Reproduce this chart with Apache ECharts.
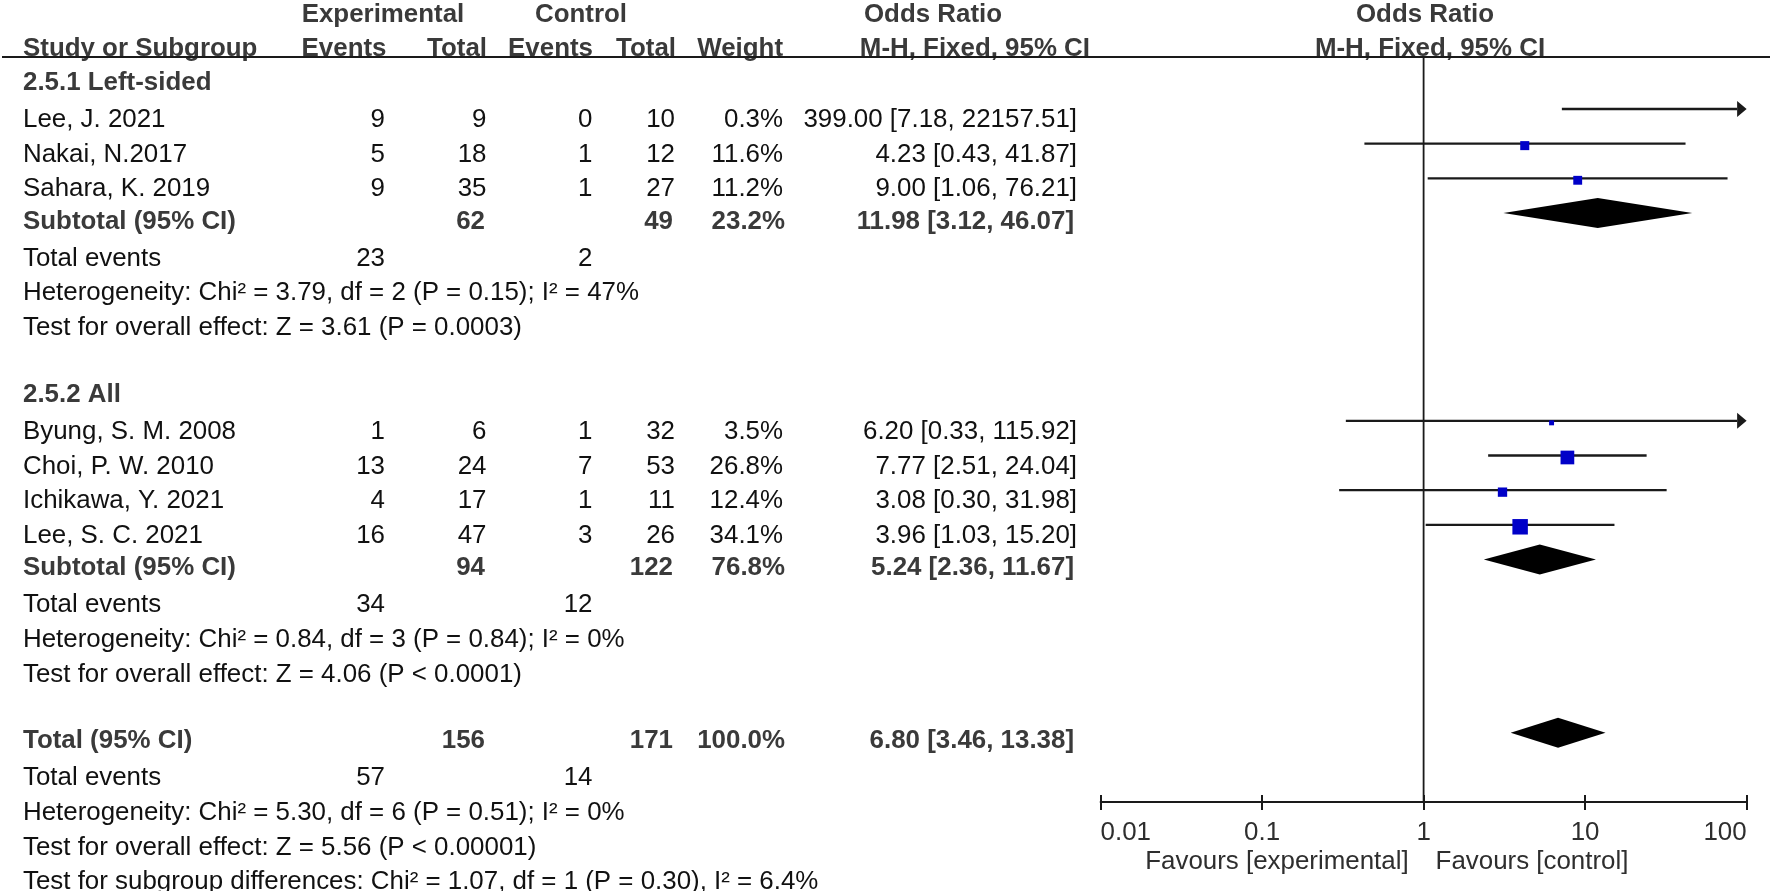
<!DOCTYPE html>
<html>
<head>
<meta charset="utf-8">
<script src="https://cdn.jsdelivr.net/npm/echarts@6/dist/echarts.min.js"></script>
<style>
html,body{margin:0;padding:0;background:#fff;}
#chart{width:1771px;height:891px;}
</style>
</head>
<body>
<div id="chart"></div>
<script>
// ---------------- DATA ----------------
const studies      = ['Lee, J. 2021', 'Nakai, N.2017', 'Sahara, K. 2019', 'Byung, S. M. 2008', 'Choi, P. W. 2010', 'Ichikawa, Y. 2021', 'Lee, S. C. 2021'];
const expEvents    = [9, 5, 9, 1, 13, 4, 16];
const expTotal     = [9, 18, 35, 6, 24, 17, 47];
const ctlEvents    = [0, 1, 1, 1, 7, 1, 3];
const ctlTotal     = [10, 12, 27, 32, 53, 11, 26];
const weights      = [0.3, 11.6, 11.2, 3.5, 26.8, 12.4, 34.1];
const oddsRatio    = [399.00, 4.23, 9.00, 6.20, 7.77, 3.08, 3.96];
const ciLow        = [7.18, 0.43, 1.06, 0.33, 2.51, 0.30, 1.03];
const ciHigh       = [22157.51, 41.87, 76.21, 115.92, 24.04, 31.98, 15.20];

const groupLabels  = ['2.5.1 Left-sided', '2.5.2 All'];
const pooledLabels = ['Subtotal (95% CI)', 'Subtotal (95% CI)', 'Total (95% CI)'];
const pooledExpTotal = [62, 94, 156];
const pooledCtlTotal = [49, 122, 171];
const pooledWeight   = [23.2, 76.8, 100.0];
const pooledOR       = [11.98, 5.24, 6.80];
const pooledLow      = [3.12, 2.36, 3.46];
const pooledHigh     = [46.07, 11.67, 13.38];
const totalEventsExp = [23, 34, 57];
const totalEventsCtl = [2, 12, 14];
const heterogeneityText = [
  'Heterogeneity: Chi² = 3.79, df = 2 (P = 0.15); I² = 47%',
  'Heterogeneity: Chi² = 0.84, df = 3 (P = 0.84); I² = 0%',
  'Heterogeneity: Chi² = 5.30, df = 6 (P = 0.51); I² = 0%'
];
const overallEffectText = [
  'Test for overall effect: Z = 3.61 (P = 0.0003)',
  'Test for overall effect: Z = 4.06 (P < 0.0001)',
  'Test for overall effect: Z = 5.56 (P < 0.00001)'
];
const subgroupDiffText = 'Test for subgroup differences: Chi² = 1.07, df = 1 (P = 0.30), I² = 6.4%';
const totalEventsLabel = 'Total events';

const headerTop    = ['Experimental', 'Control', 'Odds Ratio', 'Odds Ratio'];
const headerCols   = ['Study or Subgroup', 'Events', 'Total', 'Events', 'Total', 'Weight', 'M-H, Fixed, 95% CI', 'M-H, Fixed, 95% CI'];
const tickValues   = [0.01, 0.1, 1, 10, 100];
const tickLabels   = ['0.01', '0.1', '1', '10', '100'];
const favourLabels = ['Favours [experimental]', 'Favours [control]'];

// ---------------- LAYOUT (row slots) ----------------
const studyRow  = [3, 4, 5, 12, 13, 14, 15];
const groupRow  = [2, 11];
const pooledRow = [6, 16, 21];
const subgroupRow = 25;

const FONT = '"Liberation Sans", Arial, Helvetica, sans-serif';
const FS = 25.9;
const C_BOLD = '#3a3a3a';
const C_REG = '#111111';
const C_LINE = '#1a1a1a';

const COL = {
  name: 23, expEv: 385, expTot: 486.5, ctlEv: 592.5, ctlTot: 675, weight: 783, or: 1077,
  hExp: 383, hCtl: 581, hOR: 933, hORr: 1425, hMH: 1090, hMHr: 1430
};
const BOLD_SHIFT = { expTot: -1.5, ctlTot: -2, weight: 2, or: -3 };
const DY_BOLD = 8.5, DY_REG = 11, DY_HEAD = 9.5;

// ---------------- CHART ----------------
const chart = echarts.init(document.getElementById('chart'), null, { renderer: 'canvas' });

const forestItems = [];
studies.forEach((s, i) => {
  forestItems.push({ name: s, value: [oddsRatio[i], studyRow[i], ciLow[i], ciHigh[i], weights[i], 0] });
});
pooledLabels.forEach((s, i) => {
  forestItems.push({ name: s, value: [pooledOR[i], pooledRow[i], pooledLow[i], pooledHigh[i], pooledWeight[i], 1] });
});

function renderForest(params, api) {
  const or = api.value(0), k = api.value(1), lo = api.value(2), hi = api.value(3), w = api.value(4), pooled = api.value(5);
  const cs = params.coordSys;
  const xMin = cs.x, xMax = cs.x + cs.width;
  const pLo = api.coord([lo, k]), pHi = api.coord([hi, k]), pC = api.coord([or, k]);
  const y = pC[1];
  if (pooled) {
    const h = 15;
    return {
      type: 'polygon',
      shape: { points: [[pLo[0], y], [pC[0], y - h], [pHi[0], y], [pC[0], y + h]] },
      style: { fill: '#000' }
    };
  }
  const children = [];
  const x1 = Math.max(pLo[0], xMin);
  const clipR = pHi[0] > xMax;
  const aLen = 9.5, aH = 8;
  const x2 = clipR ? xMax - aLen : pHi[0];
  children.push({ type: 'line', shape: { x1: x1, y1: y, x2: x2, y2: y }, style: { stroke: C_LINE, lineWidth: 2.3 } });
  if (clipR) {
    children.push({ type: 'polygon', shape: { points: [[xMax, y], [xMax - aLen, y - aH], [xMax - aLen, y + aH]] }, style: { fill: C_LINE } });
  }
  if (pC[0] >= xMin && pC[0] <= xMax) {
    const s = 2.65 * Math.sqrt(w);
    children.push({ type: 'rect', shape: { x: pC[0] - s / 2, y: y + 2 - s / 2, width: s, height: s }, style: { fill: '#0000c8' } });
  }
  return { type: 'group', children: children };
}

function fmtTick(v) {
  for (let i = 0; i < tickValues.length; i++) {
    if (Math.abs(Math.log10(v) - Math.log10(tickValues[i])) < 1e-6) return tickLabels[i];
  }
  return '';
}

const option = {
  animation: false,
  backgroundColor: '#ffffff',
  grid: { left: 1100.6, right: 24.4, top: 57, bottom: 89, containLabel: false, outerBoundsMode: 'none' },
  xAxis: [
    {
      type: 'log', logBase: 10, min: 0.01, max: 100, position: 'bottom',
      splitLine: { show: false }, minorTick: { show: false },
      axisLine: { show: true, onZero: false, lineStyle: { color: C_LINE, width: 2 } },
      axisTick: { show: true, inside: false, length: 8, lineStyle: { color: C_LINE, width: 2 } },
      axisLabel: { show: true, margin: 18, fontSize: FS, fontFamily: FONT, color: '#2e2e2e', formatter: fmtTick, alignMinLabel: 'left', alignMaxLabel: 'right' }
    },
    {
      type: 'log', logBase: 10, min: 0.01, max: 100, position: 'bottom', gridIndex: 0,
      splitLine: { show: false },
      axisLine: { show: false, onZero: false },
      axisTick: { show: true, inside: true, length: 7, lineStyle: { color: C_LINE, width: 2 } },
      axisLabel: { show: false }
    }
  ],
  yAxis: { type: 'value', inverse: true, min: 1.5, max: 23, show: false },
  series: [
    {
      type: 'line', xAxisIndex: 0, yAxisIndex: 0, data: [[1, 1.5], [1, 23]], symbol: 'none', silent: true, z: 1,
      lineStyle: { color: C_LINE, width: 1.8 }
    },
    {
      type: 'custom', xAxisIndex: 0, yAxisIndex: 0, data: forestItems, renderItem: renderForest, clip: false, silent: true, z: 3
    }
  ]
};
chart.setOption(option);

// ---------------- TABLE TEXT ----------------
const py = k => chart.convertToPixel({ yAxisIndex: 0 }, k);
const px = v => chart.convertToPixel({ xAxisIndex: 0 }, v);
const els = [];
function addText(k, str, x, align, bold, dy, color) {
  const y = py(k) + (dy != null ? dy : (bold ? DY_BOLD : DY_REG));
  els.push({
    type: 'text', x: x, y: y, silent: true,
    style: {
      text: String(str), fill: color || (bold ? C_BOLD : C_REG),
      fontSize: FS, fontFamily: FONT, fontWeight: bold ? 'bold' : 'normal',
      align: align, textAlign: align, verticalAlign: 'middle', textVerticalAlign: 'middle'
    }
  });
}
const fmtOR = (o, l, h) => o.toFixed(2) + ' [' + l.toFixed(2) + ', ' + h.toFixed(2) + ']';
const fmtW = w => w.toFixed(1) + '%';

// headers
addText(0, headerTop[0], COL.hExp, 'center', true, DY_HEAD);
addText(0, headerTop[1], COL.hCtl, 'center', true, DY_HEAD);
addText(0, headerTop[2], COL.hOR, 'center', true, DY_HEAD);
addText(0, headerTop[3], COL.hORr, 'center', true, DY_HEAD);
addText(1, headerCols[0], COL.name, 'left', true, DY_HEAD);
addText(1, headerCols[1], COL.expEv + 1.5, 'right', true, DY_HEAD);
addText(1, headerCols[2], COL.expTot + 0.5, 'right', true, DY_HEAD);
addText(1, headerCols[3], COL.ctlEv + 0.5, 'right', true, DY_HEAD);
addText(1, headerCols[4], COL.ctlTot + 1, 'right', true, DY_HEAD);
addText(1, headerCols[5], COL.weight, 'right', true, DY_HEAD);
addText(1, headerCols[6], COL.hMH, 'right', true, DY_HEAD);
addText(1, headerCols[7], COL.hMHr, 'center', true, DY_HEAD);

// groups
groupLabels.forEach((g, i) => addText(groupRow[i], g, COL.name, 'left', true));

// studies
studies.forEach((s, i) => {
  const k = studyRow[i];
  addText(k, s, COL.name, 'left', false);
  addText(k, expEvents[i], COL.expEv, 'right', false);
  addText(k, expTotal[i], COL.expTot, 'right', false);
  addText(k, ctlEvents[i], COL.ctlEv, 'right', false);
  addText(k, ctlTotal[i], COL.ctlTot, 'right', false);
  addText(k, fmtW(weights[i]), COL.weight, 'right', false);
  addText(k, fmtOR(oddsRatio[i], ciLow[i], ciHigh[i]), COL.or, 'right', false);
});

// pooled rows + stats
pooledLabels.forEach((p, i) => {
  const k = pooledRow[i];
  addText(k, p, COL.name, 'left', true);
  addText(k, pooledExpTotal[i], COL.expTot + BOLD_SHIFT.expTot, 'right', true);
  addText(k, pooledCtlTotal[i], COL.ctlTot + BOLD_SHIFT.ctlTot, 'right', true);
  addText(k, fmtW(pooledWeight[i]), COL.weight + BOLD_SHIFT.weight, 'right', true);
  addText(k, fmtOR(pooledOR[i], pooledLow[i], pooledHigh[i]), COL.or + BOLD_SHIFT.or, 'right', true);
  addText(k + 1, totalEventsLabel, COL.name, 'left', false);
  addText(k + 1, totalEventsExp[i], COL.expEv, 'right', false);
  addText(k + 1, totalEventsCtl[i], COL.ctlEv, 'right', false);
  addText(k + 2, heterogeneityText[i], COL.name, 'left', false);
  addText(k + 3, overallEffectText[i], COL.name, 'left', false);
});
addText(subgroupRow, subgroupDiffText, COL.name, 'left', false);

// header rule
const yRule = py(1.5);
els.push({ type: 'line', silent: true, shape: { x1: 2, y1: yRule, x2: 1770, y2: yRule }, style: { stroke: C_LINE, lineWidth: 2 } });

// favours labels
const x1 = px(1);
const yFav = py(23) + 60;
els.push({ type: 'text', x: x1 - 15, y: yFav, silent: true, style: { text: favourLabels[0], fill: '#2e2e2e', fontSize: FS, fontFamily: FONT, align: 'right', textAlign: 'right', verticalAlign: 'middle', textVerticalAlign: 'middle' } });
els.push({ type: 'text', x: x1 + 12, y: yFav, silent: true, style: { text: favourLabels[1], fill: '#2e2e2e', fontSize: FS, fontFamily: FONT, align: 'left', textAlign: 'left', verticalAlign: 'middle', textVerticalAlign: 'middle' } });

chart.setOption({ graphic: { elements: els } });
</script>
</body>
</html>
